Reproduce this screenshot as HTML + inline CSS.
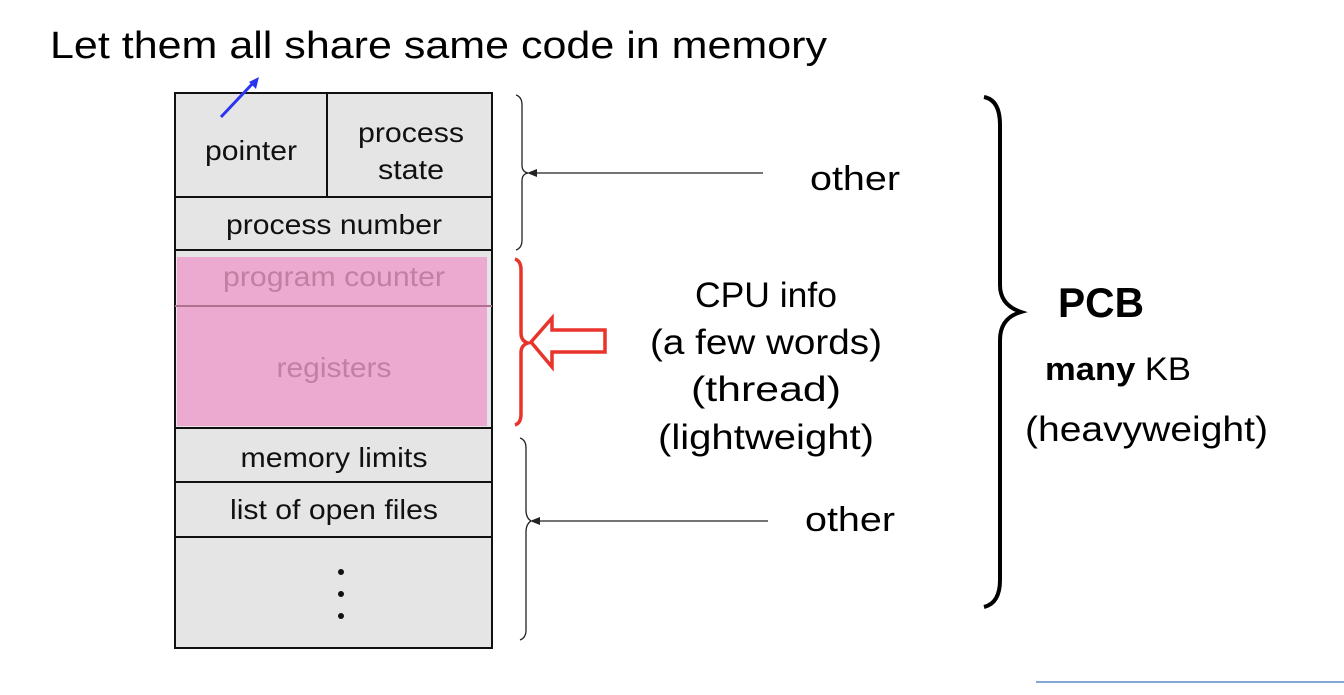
<!DOCTYPE html>
<html><head><style>html,body{margin:0;padding:0;background:#fff}</style></head><body>
<svg width="1344" height="695" viewBox="0 0 1344 695" xmlns="http://www.w3.org/2000/svg" style="display:block">
<text x="50" y="58" font-family="Liberation Sans, sans-serif" font-size="38" textLength="777" lengthAdjust="spacingAndGlyphs" fill="#000">Let them all share same code in memory</text>
<rect x="175" y="93" width="317" height="555" fill="#e6e5e6" stroke="#111" stroke-width="2"/>
<rect x="177" y="257" width="310" height="169" fill="#ecaad0"/>
<g stroke="#111" stroke-width="2">
<line x1="327" y1="93" x2="327" y2="197"/>
<line x1="175" y1="197" x2="492" y2="197"/>
<line x1="175" y1="250" x2="492" y2="250"/>
<line x1="175" y1="306" x2="492" y2="306" stroke="#b0708f"/>
<line x1="175" y1="428" x2="492" y2="428"/>
<line x1="175" y1="482" x2="492" y2="482"/>
<line x1="175" y1="537" x2="492" y2="537"/>
</g>
<g font-family="Liberation Sans, sans-serif" font-size="28" text-anchor="middle" fill="#111">
<text x="251" y="160" textLength="92" lengthAdjust="spacingAndGlyphs">pointer</text>
<text x="411" y="142" textLength="106" lengthAdjust="spacingAndGlyphs">process</text>
<text x="411" y="179" textLength="66" lengthAdjust="spacingAndGlyphs">state</text>
<text x="334" y="234" textLength="216" lengthAdjust="spacingAndGlyphs">process number</text>
<text x="334" y="286" fill="#c27fa3" textLength="222" lengthAdjust="spacingAndGlyphs">program counter</text>
<text x="334" y="377" fill="#c27fa3" textLength="115" lengthAdjust="spacingAndGlyphs">registers</text>
<text x="334" y="467" textLength="187" lengthAdjust="spacingAndGlyphs">memory limits</text>
<text x="334" y="519" textLength="208" lengthAdjust="spacingAndGlyphs">list of open files</text>
</g>
<circle cx="341" cy="572" r="3" fill="#111"/><circle cx="341" cy="594" r="3" fill="#111"/><circle cx="341" cy="616" r="3" fill="#111"/>
<line x1="221" y1="117" x2="254" y2="82" stroke="#2b35f0" stroke-width="3"/>
<polygon points="259,77 249,82 256,89" fill="#2b35f0"/>
<g fill="none" stroke="#222" stroke-width="1.3">
<path d="M516,95 Q522,97 522,105 L522,165 Q522,172 528,173 Q522,174 522,181 L522,240 Q522,248 516,250"/>
<path d="M520,438 Q526,440 526,448 L526,510 Q526,518 531,521 Q526,524 526,532 L526,630 Q526,638 520,640"/>
</g>
<line x1="533" y1="173" x2="763" y2="173" stroke="#222" stroke-width="1.3"/>
<polygon points="527,173 537,169 537,177" fill="#222"/>
<line x1="537" y1="521" x2="768" y2="521" stroke="#222" stroke-width="1.3"/>
<polygon points="530,521 540,517 540,525" fill="#222"/>
<path d="M515,259 Q521,261 521,270 L521,333 Q521,341 528,343 Q521,345 521,353 L521,414 Q521,423 515,425" fill="none" stroke="#e8342a" stroke-width="3.5"/>
<polygon points="531,342 552,318 552,330 605,330 605,352 552,352 552,367" fill="none" stroke="#e8342a" stroke-width="3.5"/>
<path d="M984,97 Q1000,100 1000,125 L1000,285 Q1000,305 1021,312 Q1000,318 1000,340 L1000,580 Q1000,603 984,607" fill="none" stroke="#000" stroke-width="4"/>
<g font-family="Liberation Sans, sans-serif" fill="#000">
<text x="855" y="190" font-size="34" text-anchor="middle" textLength="90" lengthAdjust="spacingAndGlyphs">other</text>
<text x="850" y="531" font-size="34" text-anchor="middle" textLength="90" lengthAdjust="spacingAndGlyphs">other</text>
<g font-size="35" text-anchor="middle">
<text x="766" y="307" textLength="142" lengthAdjust="spacingAndGlyphs">CPU info</text>
<text x="766" y="354" textLength="232" lengthAdjust="spacingAndGlyphs">(a few words)</text>
<text x="766" y="401" textLength="150" lengthAdjust="spacingAndGlyphs">(thread)</text>
<text x="766" y="449" textLength="216" lengthAdjust="spacingAndGlyphs">(lightweight)</text>
</g>
<text x="1058" y="317" font-size="42" font-weight="bold" textLength="86" lengthAdjust="spacingAndGlyphs">PCB</text>
<text x="1045" y="380" font-size="32" textLength="146" lengthAdjust="spacingAndGlyphs"><tspan font-weight="bold">many</tspan> KB</text>
<text x="1025" y="441" font-size="35" textLength="243" lengthAdjust="spacingAndGlyphs">(heavyweight)</text>
</g>
<line x1="1036" y1="682" x2="1344" y2="682" stroke="#5b8ac6" stroke-width="1.5"/>
</svg>
</body></html>
